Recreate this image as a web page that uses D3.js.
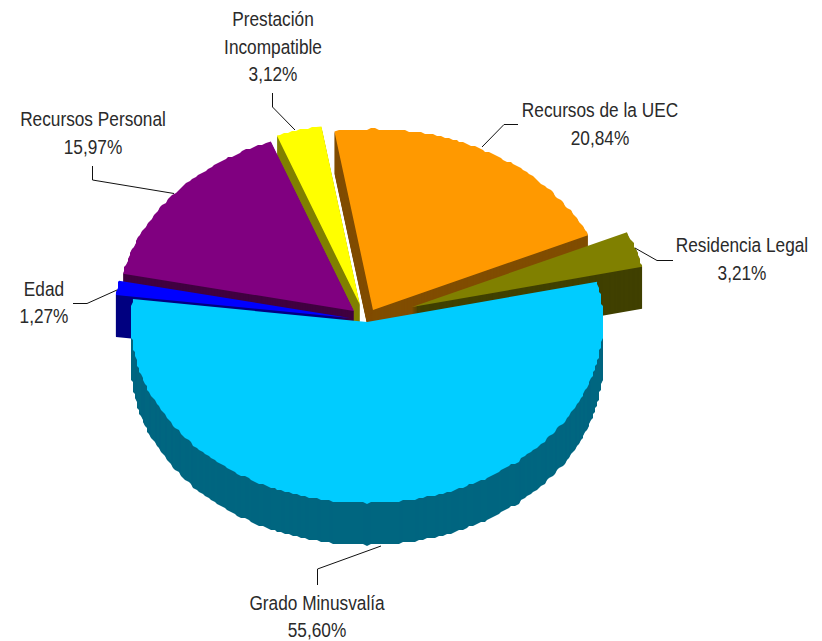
<!DOCTYPE html>
<html>
<head>
<meta charset="utf-8">
<script src="https://cdn.jsdelivr.net/npm/d3@7/dist/d3.min.js"></script>
<style>
html,body{margin:0;padding:0;background:#fff;}
svg{display:block;}
text{font-family:"Liberation Sans",Arial,sans-serif;font-size:19.5px;fill:#2a2a2a;text-anchor:middle;}
</style>
</head>
<body>
<div id="chart"></div>
<script>
// ---- data ----
const categories = ["Recursos de la UEC","Residencia Legal","Grado Minusvalía","Edad","Recursos Personal","Prestación Incompatible"];
const values = [20.84,3.21,55.60,1.27,15.97,3.12];
const valueLabels = ["20,84%","3,21%","55,60%","1,27%","15,97%","3,12%"];

// ---- styles ----
const topColors = ["#FF9900","#808000","#00CCFF","#0000FF","#800080","#FFFF00"];
const sideColors = ["#804D00","#404000","#006680","#000080","#400040","#808000"];

// ---- layout ----
const width = 822, height = 641;
const cx = 367, cy = 322, rx = 236, tilt = 0.767, depth = 42;
const firstAngle = -9.4 * Math.PI / 180;
const shiftX = [6,45,0,-17,-13,-7];
const shiftY = [-12,-15,0,-4,-11,-17];
const drawOrder = [5,0,1,4,3,2];
const labelLines = [["Recursos de la UEC"],["Residencia Legal"],["Grado Minusvalía"],["Edad"],["Recursos Personal"],["Prestación","Incompatible"]];
const labelX = [600,742,317,44,93,273];
const labelY = [117,252,610,296,126,26];
const lineGap = [28,28,27,27,28,27.5];
const leaders = [
  [[518,124.5],[504,124.5],[482,147]],
  [[673,260.5],[657,260.5],[635,248]],
  [[317.5,585],[317.5,569],[381,546]],
  [[73,303.5],[87,303.5],[117,290]],
  [[92.5,166],[92.5,180],[174,193.5]],
  [[272.5,93],[272.5,107],[295,130]]
];

const svg = d3.select("#chart").append("svg").attr("width",width).attr("height",height);

const arcs = d3.pie().sort(null).startAngle(firstAngle).endAngle(firstAngle + 2*Math.PI)(values);
const px = d3.scaleLinear().domain([-1,1]).range([-rx,rx]);
const py = d3.scaleLinear().domain([-1,1]).range([-rx*tilt,rx*tilt]);
const line = d3.line();
const rimStep = 1 * Math.PI / 180, snap = 2;

function slicePoints(a){
  const pts = [[0,0],[px(Math.sin(a.startAngle)),py(-Math.cos(a.startAngle))]];
  for(let t = a.startAngle + rimStep; t < a.endAngle - rimStep/2; t += rimStep){
    pts.push([Math.round(px(Math.sin(t))/snap)*snap, Math.round(py(-Math.cos(t))/snap)*snap]);
  }
  pts.push([px(Math.sin(a.endAngle)),py(-Math.cos(a.endAngle))]);
  return pts;
}

drawOrder.forEach(i=>{
  const d = line(slicePoints(arcs[i])) + "Z";
  const g = svg.append("g").attr("transform",`translate(${cx+shiftX[i]},${cy+shiftY[i]})`);
  g.selectAll("path.side").data(d3.range(depth,0,-1)).join("path")
    .attr("class","side").attr("d",d).attr("fill",sideColors[i])
    .attr("transform",k=>`translate(0,${k})`);
  g.append("path").attr("d",d).attr("fill",topColors[i]);
});

const leaderLine = d3.line();
svg.selectAll("path.leader").data(leaders).join("path")
  .attr("class","leader").attr("d",leaderLine).attr("fill","none")
  .attr("stroke","#111").attr("stroke-width",1);

categories.forEach((c,i)=>{
  const lines = labelLines[i].concat(valueLabels[i]);
  lines.forEach((t,j)=>{
    svg.append("text")
      .attr("transform",`translate(${labelX[i]},${labelY[i]+j*lineGap[i]}) scale(0.885,1)`)
      .text(t);
  });
});
</script>
</body>
</html>
